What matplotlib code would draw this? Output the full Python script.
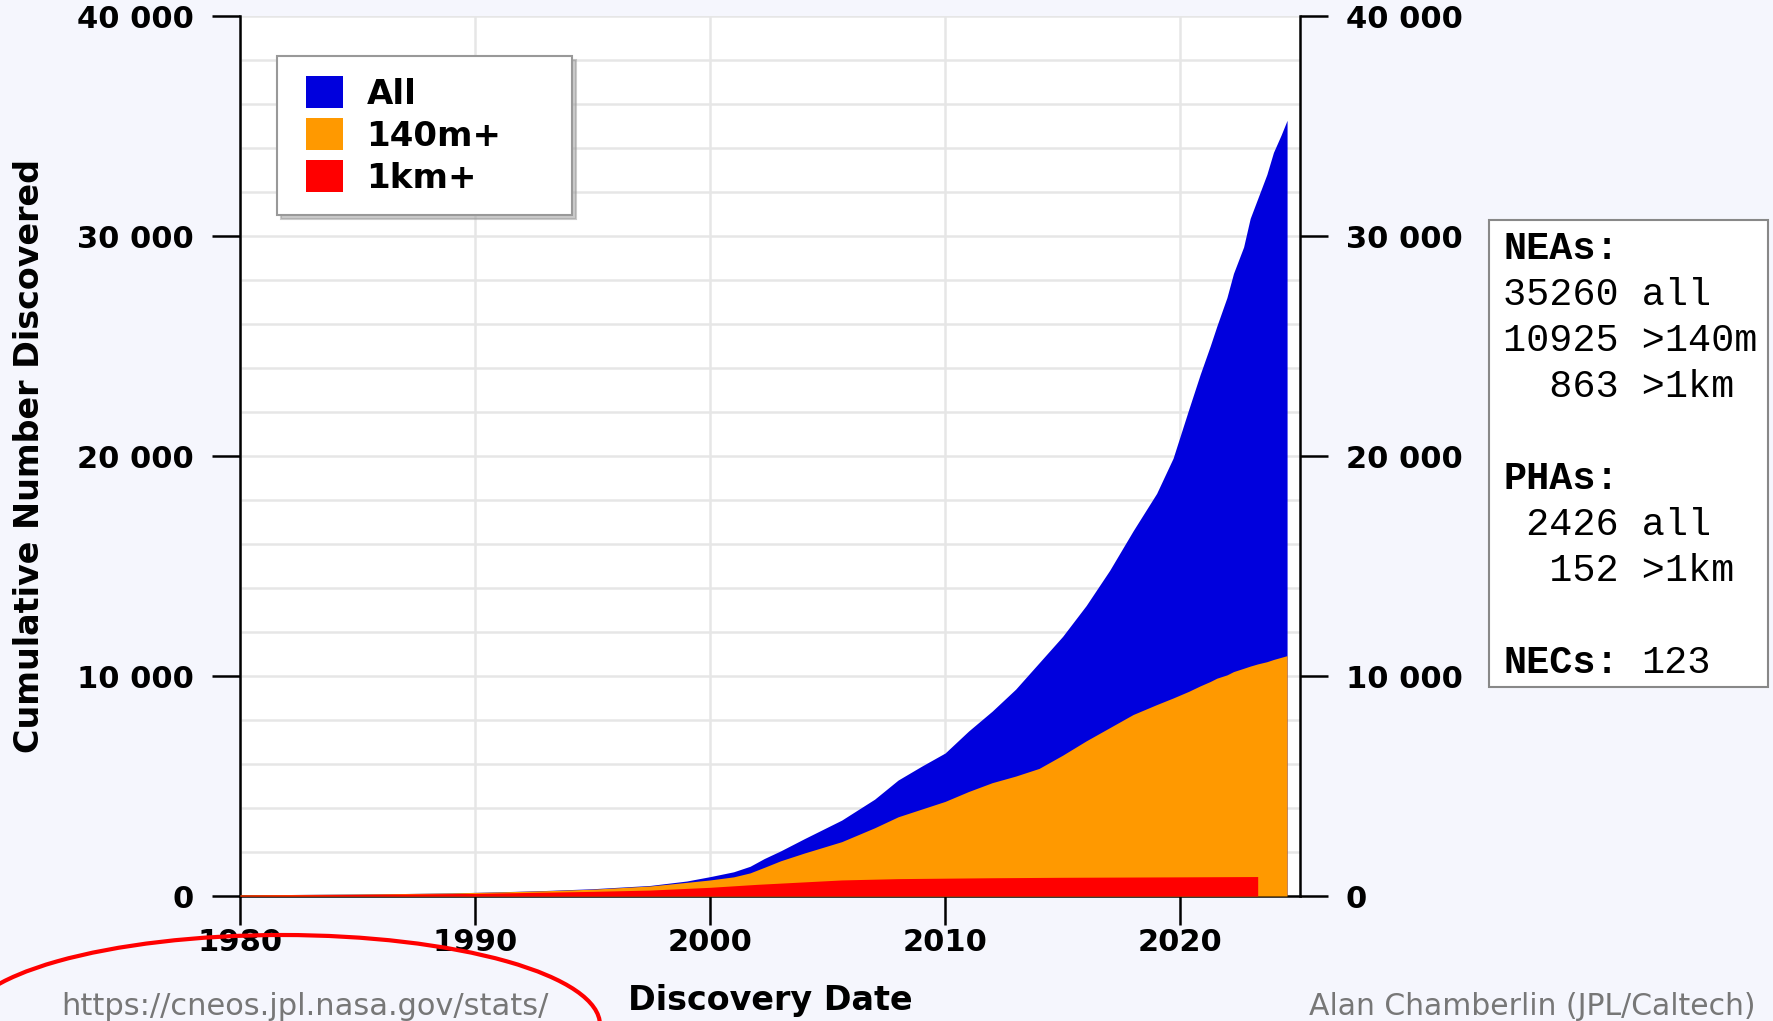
# Cumulative NEA discoveries (CNEOS style chart)
import matplotlib
matplotlib.use("Agg")
import matplotlib.pyplot as plt
from matplotlib.patches import Patch, Rectangle, Ellipse
from matplotlib.legend_handler import HandlerPatch

# ----------------------------------------------------------------------------
# Data
years = [1980.0, 1983.0, 1986.0, 1989.0, 1991.0, 1993.0, 1995.0, 1997.45, 1999.0,
         2000.0, 2001.0, 2001.7, 2002.3, 2003.0, 2004.0, 2005.6, 2007.0, 2008.0,
         2009.0, 2010.0, 2011.0, 2012.0, 2013.0, 2014.0, 2015.0, 2016.0, 2017.0,
         2018.0, 2019.0, 2019.7, 2020.36, 2020.85, 2021.28, 2021.56, 2021.99,
         2022.27, 2022.7, 2022.98, 2023.3, 2023.69, 2023.97, 2024.3, 2024.55]
neas_all = [50, 75, 100, 140, 190, 250, 330, 480, 680,
            880, 1100, 1350, 1700, 2050, 2600, 3450, 4400, 5270,
            5900, 6500, 7500, 8400, 9400, 10600, 11800, 13200, 14800,
            16600, 18300, 19900, 22100, 23700, 25000, 25900, 27200,
            28300, 29500, 30800, 31700, 32800, 33800, 34600, 35260]
neas_140m = [50, 75, 100, 140, 185, 240, 310, 455, 620,
             730, 870, 1050, 1300, 1600, 1950, 2470, 3100, 3600,
             3950, 4300, 4750, 5150, 5450, 5800, 6400, 7050, 7650,
             8250, 8700, 9000, 9300, 9550, 9750, 9900, 10050,
             10200, 10350, 10450, 10550, 10650, 10750, 10850, 10925]
years_1km = [1980.0, 1985.0, 1990.0, 1995.0, 1997.45, 2000.0, 2002.0, 2005.6,
             2008.0, 2012.0, 2015.0, 2020.0, 2023.3]
neas_1km = [40, 70, 120, 210, 270, 395, 530, 730, 790, 830, 850, 870, 885]

series_labels = ["All", "140m+", "1km+"]
series_colors = ["#0000dd", "#ff9900", "#ff0000"]

x_ticks = [1980, 1990, 2000, 2010, 2020]
y_ticks = [0, 10000, 20000, 30000, 40000]
y_tick_labels = ["0", "10 000", "20 000", "30 000", "40 000"]

# Texto do quadro lateral: (negrito, coluna 0) e (normal, coluna 0 ou 6)
stats_bold = ["NEAs:", "", "", "", "", "PHAs:", "", "", "", "NECs:"]
stats_text = ["", "35260 all", "10925 >140m", "  863 >1km", "",
              "", " 2426 all", "  152 >1km", "", "123"]
stats_col = [0, 0, 0, 0, 0, 0, 0, 0, 0, 6]

# ----------------------------------------------------------------------------
W, H = 1773, 1021
bg = "#f5f6fd"


def fx(px):
    return px / W


def fy(py):
    return 1 - py / H


fig = plt.figure(figsize=(W / 100, H / 100), dpi=100, facecolor=bg)
ax = fig.add_axes([fx(240), fy(896), (1300 - 240) / W, (896 - 16) / H])
ax.set_facecolor("white")

# Areas (cada uma desde zero)
ax.fill_between(years, 0, neas_all, color=series_colors[0], lw=0, zorder=2)
ax.fill_between(years, 0, neas_140m, color=series_colors[1], lw=0, zorder=3)
ax.fill_between(years_1km, 0, neas_1km, color=series_colors[2], lw=0, zorder=4)

ax.set_xlim(1980, 2025.1)
ax.set_ylim(0, 40000)

# Grade
ax.set_axisbelow(True)
ax.set_xticks(x_ticks)
ax.set_xticklabels([str(t) for t in x_ticks])
ax.set_yticks(y_ticks)
ax.set_yticklabels(y_tick_labels)
ax.set_yticks(range(0, 40001, 2000), minor=True)
ax.grid(axis="y", which="both", color="#e6e6e6", lw=1.8)
ax.grid(axis="x", which="major", color="#e6e6e6", lw=1.8)

# Eixos e ticks
for s in ["left", "right", "bottom"]:
    ax.spines[s].set_linewidth(1.8)
ax.spines["top"].set_visible(False)
ax.tick_params(axis="y", which="major", left=True, right=True, labelleft=True,
               labelright=True, direction="out", length=20, width=1.8, pad=13,
               labelsize=22)
ax.tick_params(axis="y", which="minor", length=0)
ax.tick_params(axis="x", direction="out", length=21, width=1.8, pad=2,
               labelsize=22)
for lab in ax.get_xticklabels() + ax.get_yticklabels():
    lab.set_fontweight("bold")

# Titulos dos eixos
fig.text(fx(30), fy(456), "Cumulative Number Discovered", rotation=90,
         ha="center", va="center", fontsize=24, fontweight="bold")
fig.text(fx(770), fy(1010), "Discovery Date", ha="center", va="baseline",
         fontsize=24, fontweight="bold")


# Legenda (quadrado deslocado um pouco para a direita)
def square(legend, orig_handle, xdescent, ydescent, width, height, fontsize):
    return Rectangle((6.5 - xdescent, -ydescent), width - 6.5, height)


handles = [Patch(facecolor=c, edgecolor="none") for c in series_colors]
leg = ax.legend(handles, series_labels, loc="upper left", mode="expand",
                bbox_to_anchor=(fx(277), fy(214), 295 / W, 158 / H),
                bbox_transform=fig.transFigure, borderaxespad=0,
                prop={"weight": "bold", "size": 24.5}, handlelength=1.33,
                handleheight=1.06, labelspacing=0.22, handletextpad=0.7,
                borderpad=0.6, fancybox=False, framealpha=1,
                edgecolor="#999999",
                handler_map={Patch: HandlerPatch(patch_func=square)},
                shadow={"ox": 3, "oy": -3, "color": "0.6", "alpha": 0.5})
leg.get_frame().set_linewidth(1.5)

# Quadro de estatisticas
fig.patches.append(Rectangle((fx(1489), fy(687)), (1768 - 1489) / W, (687 - 220) / H,
                             transform=fig.transFigure, facecolor="white",
                             edgecolor="#888888", lw=1.5))
fs_mono = 27.7
char_w = fs_mono / 72 * 100 * 0.6
for i, (b, t, c) in enumerate(zip(stats_bold, stats_text, stats_col)):
    yb = fy(259 + 46 * i)
    if t:
        fig.text(fx(1503 + c * char_w), yb, t, family="Liberation Mono",
                 fontsize=fs_mono, va="baseline", ha="left")
    if b:
        fig.text(fx(1503), yb, b, family="Liberation Mono", fontsize=fs_mono,
                 fontweight="bold", va="baseline", ha="left")

# Creditos
fig.text(fx(305), fy(1015), "https://cneos.jpl.nasa.gov/stats/", ha="center",
         va="baseline", fontsize=22, color="#777777")
fig.text(fx(1532), fy(1015), "Alan Chamberlin (JPL/Caltech)", ha="center",
         va="baseline", fontsize=21.5, color="#777777")

# Elipse vermelha de destaque
fig.patches.append(Ellipse((fx(282), fy(1025)), 636 / W, 180 / H,
                           transform=fig.transFigure, facecolor="none",
                           edgecolor="#ff0000", lw=3, zorder=10))

plt.savefig("out.png", dpi=100, facecolor=bg)
